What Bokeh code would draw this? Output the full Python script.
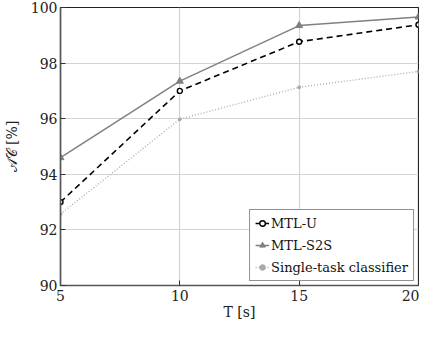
from bokeh.plotting import figure
from bokeh.models import Range1d, FixedTicker, Legend, LegendItem
from bokeh.embed import file_html
from bokeh.resources import INLINE

T = [5, 10, 15, 20]
mtl_u = [93.0, 97.0, 98.77, 99.38]
mtl_s2s = [94.6, 97.35, 99.35, 99.66]
single = [92.57, 95.98, 97.13, 97.7]
x_ticks = [5, 10, 15, 20]
y_ticks = [90, 92, 94, 96, 98, 100]

FONT = "DejaVu Serif"

p = figure(width=419, height=323, output_backend="svg", toolbar_location=None,
           x_range=Range1d(5, 20), y_range=Range1d(90, 100),
           min_border_left=54, min_border_right=1, min_border_top=7, min_border_bottom=38)
p.outline_line_color = "#222222"
p.outline_line_width = 1.2

for ax in (p.xaxis[0], p.yaxis[0]):
    ax.axis_line_color = "#555555"
    ax.axis_line_width = 1.5
    ax.major_tick_in = 5
    ax.major_tick_out = 0
    ax.minor_tick_line_color = None
    ax.major_tick_line_color = "#333333"
    ax.major_label_text_font = FONT
    ax.major_label_text_font_size = "14px"
    ax.major_label_text_color = "#222222"
    ax.axis_label_text_font = FONT
    ax.axis_label_text_font_size = "14px"
    ax.axis_label_text_font_style = "normal"
    ax.axis_label_text_color = "#222222"

p.xaxis[0].ticker = FixedTicker(ticks=x_ticks)
p.yaxis[0].ticker = FixedTicker(ticks=y_ticks)
p.xaxis[0].axis_label = "T [s]"
p.xaxis[0].axis_label_standoff = 0
p.yaxis[0].axis_label = "\U0001D49C\U0001D49E [%]"
p.yaxis[0].axis_label_standoff = 8
p.xaxis[0].major_label_standoff = 4
p.yaxis[0].major_label_standoff = 3

p.xgrid.ticker = FixedTicker(ticks=x_ticks)
p.ygrid.ticker = FixedTicker(ticks=y_ticks)
p.grid.grid_line_color = "#d4d4d4"
p.grid.grid_line_width = 1.2

r1 = p.line(T, mtl_u, line_color="black", line_dash="6 4", line_width=1.6)
r1m = p.scatter(T, mtl_u, marker="circle", size=5, fill_color="white", line_color="black", line_width=1.4)
r2 = p.line(T, mtl_s2s, line_color="#808080", line_width=1.5)
r2m = p.scatter(T, mtl_s2s, marker="triangle", size=7, fill_color="#808080", line_color="#808080")
r3 = p.line(T, single, line_color="#aaaaaa", line_dash="1 2", line_width=1.3)
r3m = p.scatter(T, single, marker="circle", size=3, fill_color="#aaaaaa", line_color="#aaaaaa")

legend = Legend(items=[LegendItem(label="MTL-U", renderers=[r1, r1m]),
                       LegendItem(label="MTL-S2S", renderers=[r2, r2m]),
                       LegendItem(label="Single-task classifier", renderers=[r3, r3m])],
                location="bottom_right")
legend.label_text_font = FONT
legend.label_text_font_size = "13px"
legend.label_text_color = "#111111"
legend.glyph_width = 14
legend.glyph_height = 16
legend.spacing = 6
legend.padding = 5
legend.label_standoff = 2
legend.margin = 4
legend.border_line_color = "#222222"
legend.border_line_width = 1.2
legend.background_fill_alpha = 1
p.add_layout(legend)

open("out.html", "w").write(file_html(p, INLINE))
